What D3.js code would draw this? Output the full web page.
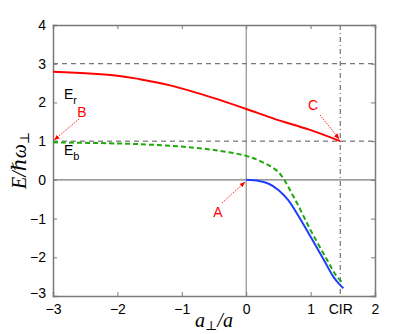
<!DOCTYPE html>
<html><head><meta charset="utf-8">
<script src="https://d3js.org/d3.v7.min.js"></script>
<style>body{margin:0;background:#fff}svg{display:block}</style>
</head><body>
<script>
// ---- data ----
const cir = 1.4603;
const xTicks = [-3, -2, -1, 0, 1, cir, 2];
const xTickLabels = ["\u22123", "\u22122", "\u22121", "0", "1", "CIR", "2"];
const yTicks = [-3, -2, -1, 0, 1, 2, 3, 4];
const yTickLabels = ["\u22123", "\u22122", "\u22121", "0", "1", "2", "3", "4"];
const redX = [-3, -2, -1.65, -1.18, -0.5, 0, 0.45, 0.99, 1.46];
const redY = [2.79, 2.69, 2.60, 2.44, 2.11, 1.83, 1.57, 1.29, 1.0];
const greenX = [-3, -2, -1.5, -1, -0.5, 0, 0.25, 0.5, 0.75, 1.0, 1.25, 1.4, 1.51];
const greenY = [0.97, 0.94, 0.91, 0.86, 0.77, 0.62, 0.46, 0.2, -0.48, -1.3, -2.05, -2.48, -2.68];
const blueX = [0, 0.2, 0.35, 0.5, 0.65, 0.8, 1.0, 1.2, 1.36, 1.45, 1.51];
const blueY = [0, -0.03, -0.1, -0.26, -0.52, -0.9, -1.47, -2.05, -2.52, -2.7, -2.8];
const hLines = [3, 1];

const W = 415, H = 334;
const m = {l: 53, r: 375, t: 25, b: 296};
const svg = d3.select("body").append("svg").attr("width", W).attr("height", H);
const x = d3.scaleLinear().domain([-3, 2]).range([m.l, m.r]);
const y = d3.scaleLinear().domain([-3, 4]).range([m.b, m.t]);
const grey = "#7a7a7a";

// guide lines
svg.selectAll(".hl").data(hLines).enter().append("line")
  .attr("x1", m.l).attr("x2", m.r).attr("y1", d => y(d)).attr("y2", d => y(d))
  .attr("stroke", "#555").attr("stroke-width", 1).attr("stroke-dasharray", "5,4");
svg.append("line").attr("x1", x(cir)).attr("x2", x(cir)).attr("y1", m.t).attr("y2", m.b)
  .attr("stroke", "#555").attr("stroke-width", 1).attr("stroke-dasharray", "5,3,1,3");
svg.append("line").attr("x1", x(0)).attr("x2", x(0)).attr("y1", m.t).attr("y2", m.b)
  .attr("stroke", grey).attr("stroke-width", 1);
svg.append("line").attr("x1", m.l).attr("x2", m.r).attr("y1", y(0)).attr("y2", y(0))
  .attr("stroke", grey).attr("stroke-width", 1.3);

// axes (inward ticks, mirrored)
const axB = svg.append("g").attr("transform", `translate(0,${m.b})`)
  .call(d3.axisBottom(x).tickValues(xTicks).tickSize(-4).tickPadding(8).tickFormat((d,i) => xTickLabels[i]));
const axT = svg.append("g").attr("transform", `translate(0,${m.t})`)
  .call(d3.axisTop(x).tickValues(xTicks).tickSize(-4).tickFormat(""));
const axL = svg.append("g").attr("transform", `translate(${m.l},0)`)
  .call(d3.axisLeft(y).tickValues(yTicks).tickSize(-4).tickPadding(7).tickFormat((d,i) => yTickLabels[i]));
const axR = svg.append("g").attr("transform", `translate(${m.r},0)`)
  .call(d3.axisRight(y).tickValues(yTicks).tickSize(-4).tickFormat(""));
[axB, axT, axL, axR].forEach(a => {
  a.select(".domain").attr("stroke", grey).attr("stroke-width", 1.5);
  a.selectAll(".tick line").attr("stroke", grey);
  a.selectAll("text").attr("font-family", "Liberation Sans, Arial, sans-serif").attr("font-size", 14).attr("fill", "#000");
});
axL.selectAll(".tick text").filter(d => d === -3).attr("dy", "0.1em");
// the CIR position carries no tick marks (dash-dot line only)
[axB, axT].forEach(a => a.selectAll(".tick line").filter(d => d === cir).remove());

// curves
const line = d3.line().x(d => x(d[0])).y(d => y(d[1])).curve(d3.curveCatmullRom.alpha(0.5));
svg.append("path").datum(redX.map((v,i) => [v, redY[i]])).attr("d", line)
  .attr("fill", "none").attr("stroke", "#ff0000").attr("stroke-width", 2);
svg.append("path").datum(greenX.map((v,i) => [v, greenY[i]])).attr("d", line)
  .attr("fill", "none").attr("stroke", "#1fa80a").attr("stroke-width", 2).attr("stroke-dasharray", "5,3");
svg.append("path").datum(blueX.map((v,i) => [v, blueY[i]])).attr("d", line)
  .attr("fill", "none").attr("stroke", "#1f3dff").attr("stroke-width", 2);

// arrows
const defs = svg.append("defs");
defs.append("marker").attr("id", "ah").attr("viewBox", "0 0 10 10").attr("refX", 10).attr("refY", 5)
  .attr("markerWidth", 7).attr("markerHeight", 7).attr("orient", "auto")
  .append("path").attr("d", "M0,1 L10,5 L0,9 Z").attr("fill", "#ff0000");
const arrows = [[79, 119, x(-3) + 1, y(1) - 1], [222, 203, x(0) - 1, y(0) + 2], [320, 115, x(cir) - 1, y(1) - 2]];
arrows.forEach(a => svg.append("line").attr("x1", a[0]).attr("y1", a[1]).attr("x2", a[2]).attr("y2", a[3])
  .attr("stroke", "#ff0000").attr("stroke-width", 0.8).attr("stroke-dasharray", "1.5,1").attr("marker-end", "url(#ah)"));

// annotation letters
const sans = "Liberation Sans, Arial, sans-serif";
[["B", 82, 117], ["A", 218, 217], ["C", 313, 110]].forEach(t =>
  svg.append("text").attr("x", t[1]).attr("y", t[2]).attr("text-anchor", "middle")
    .attr("font-family", sans).attr("font-size", 14).attr("fill", "#ff0000").text(t[0]));
[["r", 64, 99], ["b", 64, 155]].forEach(t => {
  const tx = svg.append("text").attr("x", t[1]).attr("y", t[2]).attr("font-family", sans).attr("font-size", 14).attr("fill", "#000");
  tx.append("tspan").text("E");
  tx.append("tspan").attr("dy", 5).attr("font-size", 11).text(t[0]);
});

// axis labels
const serif = "Liberation Serif, DejaVu Serif, serif";
const xl = svg.append("text").attr("x", (m.l + m.r) / 2).attr("y", 327).attr("text-anchor", "middle")
  .attr("font-family", serif).attr("font-style", "italic").attr("font-size", 20);
xl.append("tspan").text("a");
xl.append("tspan").attr("dy", 3).attr("font-size", 13).attr("font-style", "normal").text("\u22a5");
xl.append("tspan").attr("dy", -3).text("/a");
const yl = svg.append("text").attr("transform", `translate(26,${(m.t + m.b) / 2}) rotate(-90)`).attr("text-anchor", "middle")
  .attr("font-family", serif).attr("font-style", "italic").attr("font-size", 20);
yl.append("tspan").text("E/\u210fω");
yl.append("tspan").attr("dy", 3).attr("font-size", 13).attr("font-style", "normal").text("\u22a5");
</script>
</body></html>
